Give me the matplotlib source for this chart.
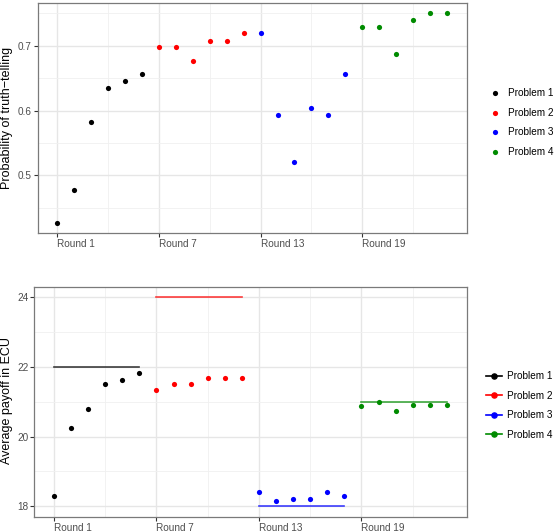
import matplotlib
matplotlib.use("Agg")
import matplotlib.pyplot as plt
from matplotlib.lines import Line2D
import numpy as np

plt.rcParams["font.family"] = ["Liberation Sans", "DejaVu Sans"]

# ── data ────────────────────────────────────────────────────────────────
rounds = np.arange(1, 25)
problems = ["Problem 1", "Problem 2", "Problem 3", "Problem 4"]
colors = ["#000000", "#FF0000", "#0000FF", "#008B00"]
problem_of_round = np.repeat([0, 1, 2, 3], 6)

truth_prob = [0.427, 0.478, 0.583, 0.635, 0.646, 0.656,
              0.698, 0.698, 0.677, 0.708, 0.708, 0.719,
              0.719, 0.593, 0.521, 0.604, 0.593, 0.656,
              0.729, 0.729, 0.688, 0.740, 0.750, 0.750]

avg_payoff = [18.29, 20.25, 20.79, 21.50, 21.63, 21.83,
              21.33, 21.50, 21.50, 21.67, 21.67, 21.67,
              18.41, 18.16, 18.20, 18.20, 18.41, 18.29,
              20.87, 21.00, 20.74, 20.91, 20.91, 20.91]

# equilibrium payoff per problem, spanning its 6 rounds
eq_payoff = [22, 24, 18, 21]
eq_start = [1, 7, 13, 19]
eq_end = [6, 12, 18, 24]

xticks = [1, 7, 13, 19]
xticklabels = ["Round 1", "Round 7", "Round 13", "Round 19"]

W, H = 557, 531
fig = plt.figure(figsize=(W / 100, H / 100), dpi=100)
ax1 = fig.add_axes([37.7 / W, 1 - 233 / H, (466.5 - 37.7) / W, 230 / H])
ax2 = fig.add_axes([34.3 / W, 1 - 516.7 / H, (466.5 - 34.3) / W, 230 / H])


def style(ax, yticks, ylim, yminor):
    ax.set_xlim(1 - 1.15, 24 + 1.15)
    ax.set_ylim(*ylim)
    ax.set_xticks(xticks)
    ax.set_xticklabels(xticklabels, ha="left")
    ax.set_xticks([4, 10, 16, 22], minor=True)
    ax.set_yticks(yticks)
    ax.set_yticks(yminor, minor=True)
    ax.grid(True, which="major", color="#E6E6E6", lw=1.0)
    ax.grid(True, which="minor", color="#F0F0F0", lw=0.6)
    ax.set_axisbelow(True)
    ax.tick_params(which="major", length=2.8, width=0.8, color="#333333",
                   labelsize=7.2, labelcolor="#4D4D4D", pad=1.5)
    ax.tick_params(which="minor", length=0)
    for s in ax.spines.values():
        s.set_color("#7a7a7a")
        s.set_linewidth(0.9)


# ── top panel: probability of truth-telling ─────────────────────────────
for i, p in enumerate(problems):
    m = problem_of_round == i
    ax1.scatter(rounds[m], np.array(truth_prob)[m], s=14, color=colors[i],
                lw=0, label=p, zorder=3)
style(ax1, [0.5, 0.6, 0.7], (0.411, 0.766), [0.45, 0.55, 0.65, 0.75])
ax1.yaxis.set_major_formatter(matplotlib.ticker.FormatStrFormatter("%.1f"))
fig.text(7 / W, 1 - 118 / H, "Probability of truth\u2212telling", rotation=90,
         ha="center", va="center", fontsize=9)
ax1.legend(loc="center left", bbox_to_anchor=(1.045, 0.481), frameon=False,
           fontsize=7.2, handlelength=1.0, handletextpad=0.85, labelspacing=0.95,
           borderaxespad=0, markerscale=1.0)

# ── bottom panel: average payoff ────────────────────────────────────────
for i, p in enumerate(problems):
    m = problem_of_round == i
    ax2.scatter(rounds[m], np.array(avg_payoff)[m], s=14, color=colors[i],
                lw=0, zorder=3)
    ax2.plot([eq_start[i], eq_end[i]], [eq_payoff[i]] * 2, color=colors[i],
             lw=1.2, alpha=0.75, zorder=2)
style(ax2, [18, 20, 22, 24], (17.7, 24.3), [19, 21, 23])
fig.text(7 / W, 1 - 401 / H, "Average payoff in ECU", rotation=90,
         ha="center", va="center", fontsize=9)
handles = [Line2D([], [], color=c, lw=1.2, marker="o", markersize=3.7)
           for c in colors]
ax2.legend(handles, problems, loc="center left", bbox_to_anchor=(1.035, 0.484),
           frameon=False, fontsize=7.2, handlelength=1.6, handletextpad=0.5,
           labelspacing=0.95, borderaxespad=0)

fig.savefig("out.png", dpi=100)
